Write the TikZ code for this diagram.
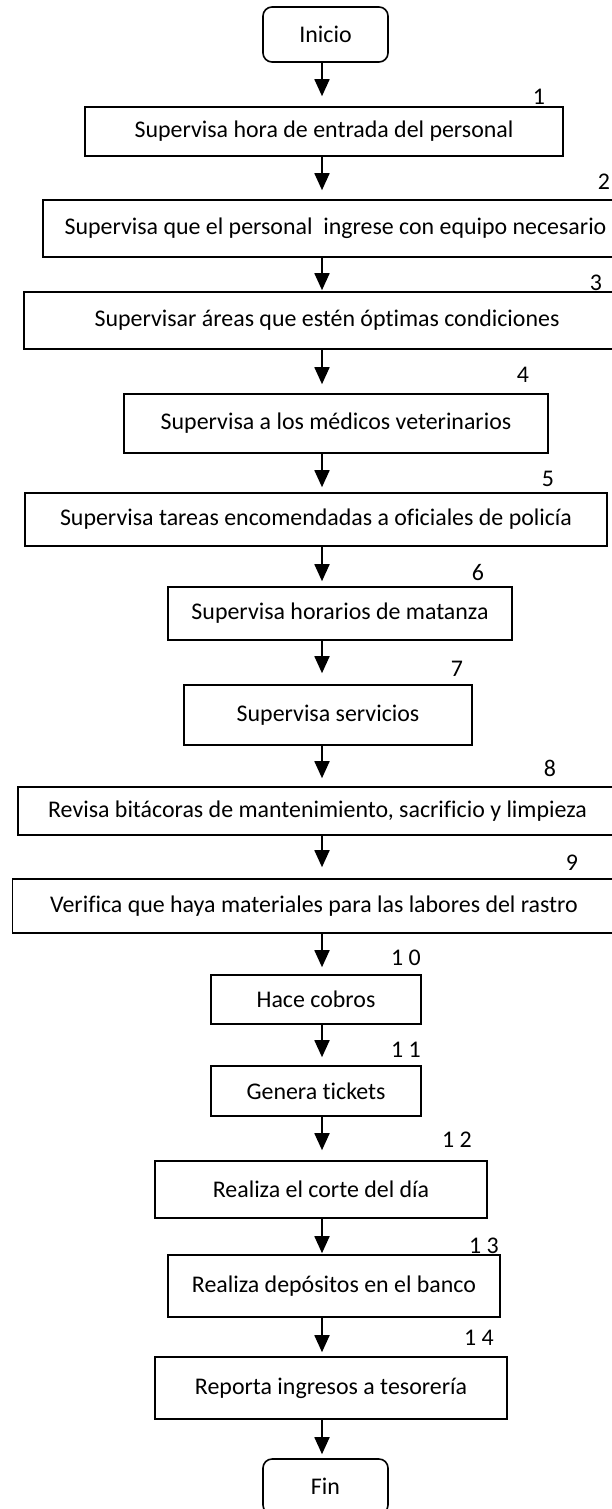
\documentclass[tikz,border=0pt]{standalone}
\usepackage{fontspec}
\setmainfont{Carlito}[Ligatures=NoCommon]
\usetikzlibrary{arrows.meta}

\begin{document}
\begin{tikzpicture}[x=1pt, y=-1pt,
  font=\fontsize{23.9}{28}\selectfont,
  stepbox/.style={draw, line width=1.6pt, inner sep=0pt},
  endbox/.style={draw, line width=1.6pt, rounded corners=9pt, inner sep=0pt,
    minimum width=125pt, minimum height=55pt},
  stepnum/.style={inner sep=0pt},
  flow/.style={line width=1.8pt, -{Triangle[width=15pt, length=17pt]}}]

  % Page
  \useasboundingbox (0,0) rectangle (612,1509);
  \clip (0,0) rectangle (612,1509);

  % Flow line
  \def\axisx{322}
  \coordinate (axis) at (\axisx, 0);

  % Start and end
  \node[endbox] (inicio) at (325.5,   34.5) {Inicio};
  \node[endbox] (fin)    at (325.5, 1486.5) {Fin};

  % Steps
  \node[stepbox, minimum width=478pt, minimum height=49pt] (b1)  at (324,  131.5) {Supervisa hora de entrada del personal};
  \node[stepbox, minimum width=585pt, minimum height=57pt] (b2)  at (335.5, 228.5) {Supervisa que el personal\ \ ingrese con equipo necesario};
  \node[stepbox, minimum width=606pt, minimum height=57pt] (b3)  at (327,  320.5) {Supervisar áreas que estén óptimas condiciones};
  \node[stepbox, minimum width=424pt, minimum height=59pt] (b4)  at (336,  423.5) {Supervisa a los médicos veterinarios};
  \node[stepbox, minimum width=582pt, minimum height=53pt] (b5)  at (316,  519.5) {Supervisa tareas encomendadas a oficiales de policía};
  \node[stepbox, minimum width=344pt, minimum height=53pt] (b6)  at (340,  613.5) {Supervisa horarios de matanza};
  \node[stepbox, minimum width=288pt, minimum height=60pt] (b7)  at (328,  715)   {Supervisa servicios};
  \node[stepbox, minimum width=599pt, minimum height=48pt] (b8)  at (317.5, 811)  {Revisa bitácoras de mantenimiento, sacrificio y limpieza};
  \node[stepbox, minimum width=603pt, minimum height=54pt] (b9)  at (314,  906)   {Verifica que haya materiales para las labores del rastro};
  \node[stepbox, minimum width=210pt, minimum height=49pt] (b10) at (316,  999.5) {Hace cobros};
  \node[stepbox, minimum width=210pt, minimum height=50pt] (b11) at (316, 1091)   {Genera tickets};
  \node[stepbox, minimum width=332pt, minimum height=57pt] (b12) at (321, 1189.5) {Realiza el corte del día};
  \node[stepbox, minimum width=332pt, minimum height=62pt] (b13) at (334, 1286)   {Realiza depósitos en el banco};
  \node[stepbox, minimum width=352pt, minimum height=62pt] (b14) at (331, 1388)   {Reporta ingresos a tesorería};

  % Step numbers
  \node[stepnum] (n1)  at (539,   97) {1};
  \node[stepnum] (n2)  at (604,  182) {2};
  \node[stepnum] (n3)  at (596,  283) {3};
  \node[stepnum] (n4)  at (523,  375) {4};
  \node[stepnum] (n5)  at (548,  479) {5};
  \node[stepnum] (n6)  at (478,  573) {6};
  \node[stepnum] (n7)  at (457,  669) {7};
  \node[stepnum] (n8)  at (550,  768) {8};
  \node[stepnum] (n9)  at (572,  863) {9};
  \node[stepnum] (n10) at (406,  958) {1 0};
  \node[stepnum] (n11) at (406, 1050) {1 1};
  \node[stepnum] (n12) at (457, 1140) {1 2};
  \node[stepnum] (n13) at (484, 1246) {1 3};
  \node[stepnum] (n14) at (479, 1338) {1 4};

  % Arrows
  \draw[flow, shorten >=10pt] (inicio.south -| axis) -- (b1.north -| axis);
  \draw[flow, shorten >=9pt]  (b1.south -| axis)  -- (b2.north -| axis);
  \draw[flow, shorten >=1pt]  (b2.south -| axis)  -- (b3.north -| axis);
  \draw[flow, shorten >=9pt]  (b3.south -| axis)  -- (b4.north -| axis);
  \draw[flow, shorten >=5pt]  (b4.south -| axis)  -- (b5.north -| axis);
  \draw[flow, shorten >=5pt]  (b5.south -| axis)  -- (b6.north -| axis);
  \draw[flow, shorten >=11pt] (b6.south -| axis)  -- (b7.north -| axis);
  \draw[flow, shorten >=8pt]  (b7.south -| axis)  -- (b8.north -| axis);
  \draw[flow, shorten >=11pt] (b8.south -| axis)  -- (b9.north -| axis);
  \draw[flow, shorten >=7pt]  (b9.south -| axis)  -- (b10.north -| axis);
  \draw[flow, shorten >=8pt]  (b10.south -| axis) -- (b11.north -| axis);
  \draw[flow, shorten >=10pt] (b11.south -| axis) -- (b12.north -| axis);
  \draw[flow, shorten >=1pt]  (b12.south -| axis) -- (b13.north -| axis);
  \draw[flow, shorten >=4pt]  (b13.south -| axis) -- (b14.north -| axis);
  \draw[flow, shorten >=4pt]  (b14.south -| axis) -- (fin.north -| axis);

\end{tikzpicture}
\end{document}
